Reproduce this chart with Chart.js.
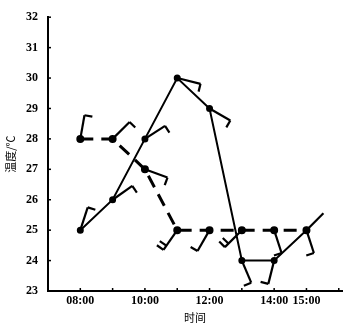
<!DOCTYPE html>
<html>
<head>
<meta charset="utf-8">
<script src="https://cdn.jsdelivr.net/npm/chart.js@4/dist/chart.umd.min.js"></script>
<style>
  html, body { margin: 0; padding: 0; background: #fff; }
</style>
</head>
<body>
<canvas id="tempChart" width="349" height="324"></canvas>
<script>
// hours on the x axis and the two temperature series
const hours = [8, 9, 10, 11, 12, 13, 14, 15];
const solidTemps = [25, 26, 28, 30, 29, 24, 24, 25];
const dashedTemps = [28, 28, 27, 25, 25, 25, 25, 25];

// wind barbs drawn at each point: direction (screen degrees) and feather count
const solidWindDir = [-72, -35, -33, 14, 30, 67, 104, -45];
const solidWindFeathers = [1, 1, 1, 1, 1, 1, 1, 0];
const dashedWindDir = [-80, -45, 20, 125, 120, 135, 72, 72];
const dashedWindFeathers = [1, 1, 1, 2, 1, 2, 1, 1];

// tick labels shown on the x axis
const tickHours = [8, 10, 12, 14, 15];
const tickText = ['08:00', '10:00', '12:00', '14:00', '15:00'];

const serif = "'Liberation Serif', 'DejaVu Serif', serif";
const cjk = "'Noto Sans CJK SC', sans-serif";

const windBarbs = {
    id: 'windBarbs',
    afterDatasetsDraw(chart) {
        const ctx = chart.ctx;
        const sets = [[solidWindDir, solidWindFeathers], [dashedWindDir, dashedWindFeathers]];
        ctx.save();
        ctx.strokeStyle = '#000';
        ctx.lineCap = 'butt';
        sets.forEach(function(s, di) {
            const meta = chart.getDatasetMeta(di);
            meta.data.forEach(function(pt, i) {
                const a = s[0][i] * Math.PI / 180;
                const len = 24;
                const ex = pt.x + len * Math.cos(a), ey = pt.y + len * Math.sin(a);
                ctx.lineWidth = 2.2;
                ctx.beginPath();
                ctx.moveTo(pt.x, pt.y);
                ctx.lineTo(ex, ey);
                ctx.stroke();
                for (let k = 0; k < s[1][i]; k++) {
                    const bx = ex - 5 * k * Math.cos(a), by = ey - 5 * k * Math.sin(a);
                    const fa = a + Math.PI / 2;
                    ctx.beginPath();
                    ctx.moveTo(bx, by);
                    ctx.lineTo(bx + 8 * Math.cos(fa), by + 8 * Math.sin(fa));
                    ctx.stroke();
                }
            });
        });
        ctx.restore();
    }
};

// small tick marks pointing into the plot
const innerTicks = {
    id: 'innerTicks',
    afterDraw(chart) {
        const ctx = chart.ctx, x = chart.scales.x, y = chart.scales.y;
        ctx.save();
        ctx.strokeStyle = '#000';
        ctx.lineWidth = 1.5;
        for (let h = 8; h <= 16; h++) {
            const px = x.getPixelForValue(h);
            ctx.beginPath(); ctx.moveTo(px, y.bottom); ctx.lineTo(px, y.bottom - 3); ctx.stroke();
        }
        for (let v = 24; v <= 32; v++) {
            const py = y.getPixelForValue(v);
            ctx.beginPath(); ctx.moveTo(x.left, py); ctx.lineTo(x.left + 3, py); ctx.stroke();
        }
        ctx.restore();
    }
};

new Chart(document.getElementById('tempChart'), {
    type: 'line',
    data: {
        datasets: [{
            data: hours.map((h, i) => ({x: h, y: solidTemps[i]})),
            borderColor: '#000',
            backgroundColor: '#000',
            borderWidth: 2,
            pointRadius: 2.5,
            tension: 0
        }, {
            data: hours.map((h, i) => ({x: h, y: dashedTemps[i]})),
            borderColor: '#000',
            backgroundColor: '#000',
            borderWidth: 3,
            borderDash: [13, 8],
            pointRadius: 2.5,
            tension: 0
        }]
    },
    options: {
        responsive: false,
        animation: false,
        layout: { padding: { top: 6, right: 4, left: 4, bottom: 0 } },
        plugins: { legend: { display: false }, tooltip: { enabled: false } },
        scales: {
            x: {
                type: 'linear',
                min: 7,
                max: 16.1,
                afterBuildTicks: function(axis) {
                    axis.ticks = tickHours.map(v => ({value: v}));
                },
                afterFit: function(axis) { axis.height = 33; },
                border: { color: '#000', width: 2 },
                grid: { display: false, drawTicks: false, tickLength: 0 },
                ticks: {
                    color: '#000',
                    padding: 3,
                    maxRotation: 0,
                    autoSkip: false,
                    font: { family: serif, size: 12, weight: 'bold' },
                    callback: function(v) {
                        const i = tickHours.indexOf(v);
                        return i >= 0 ? tickText[i] : '';
                    }
                },
                title: {
                    display: true,
                    text: '时间',
                    color: '#000',
                    padding: { top: -4, bottom: 0 },
                    font: { family: cjk, size: 11 }
                }
            },
            y: {
                min: 23,
                max: 32,
                afterFit: function(axis) { axis.width = 44; },
                border: { color: '#000', width: 2 },
                grid: { display: false, drawTicks: false, tickLength: 0 },
                ticks: {
                    stepSize: 1,
                    color: '#000',
                    padding: 10,
                    font: { family: serif, size: 12, weight: 'bold' }
                },
                title: {
                    display: true,
                    text: '温度/℃',
                    color: '#000',
                    padding: 0,
                    font: { family: cjk, size: 11 }
                }
            }
        }
    },
    plugins: [windBarbs, innerTicks]
});
</script>
</body>
</html>
